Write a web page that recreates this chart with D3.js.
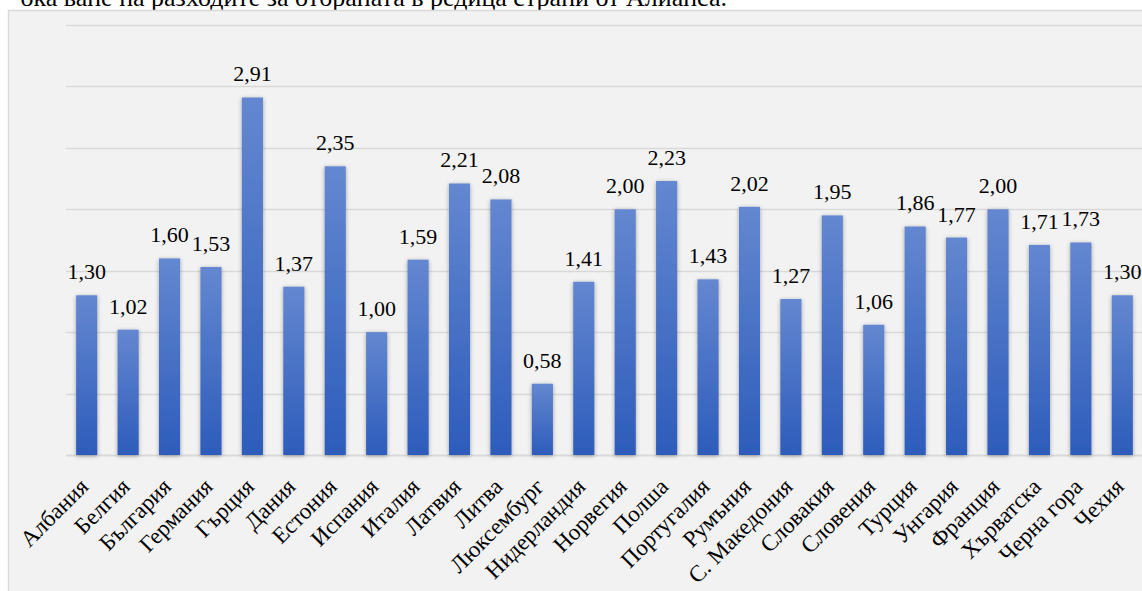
<!DOCTYPE html>
<html><head><meta charset="utf-8">
<script src="https://cdn.jsdelivr.net/npm/d3@7"></script>
<style>body{margin:0;background:#fff;overflow:hidden}svg{display:block}</style>
</head><body>
<svg id="c" width="1142" height="591"></svg>
<script>
const categories = ["Албания","Белгия","България","Германия","Гърция","Дания","Естония","Испания","Италия","Латвия","Литва","Люксембург","Нидерландия","Норвегия","Полша","Португалия","Румъния","С. Македония","Словакия","Словения","Турция","Унгария","Франция","Хърватска","Черна гора","Чехия"];
const values = [1.30,1.02,1.60,1.53,2.91,1.37,2.35,1.00,1.59,2.21,2.08,0.58,1.41,2.00,2.23,1.43,2.02,1.27,1.95,1.06,1.86,1.77,2.00,1.71,1.73,1.30];
const gridTicks = [0,0.5,1,1.5,2,2.5,3,3.5];
const caption = "ока ване на разходите за отбраната в редица страни от Алианса.";

const svg = d3.select("#c");
const font = "'Liberation Serif','Times New Roman',serif";
const defs = svg.append("defs");
const g = defs.append("linearGradient").attr("id","bg").attr("x1",0).attr("y1",0).attr("x2",0).attr("y2",1);
g.append("stop").attr("offset","0%").attr("stop-color","#6487d0");
g.append("stop").attr("offset","100%").attr("stop-color","#2d5cbb");
const f = defs.append("filter").attr("id","sh").attr("x","-50%").attr("y","-10%").attr("width","200%").attr("height","120%");
f.append("feDropShadow").attr("dx",0).attr("dy",1).attr("stdDeviation",2).attr("flood-color","#000").attr("flood-opacity",0.35);

svg.append("text").attr("x",727).attr("y",6).attr("text-anchor","end")
  .attr("font-family",font).attr("font-size",26).attr("fill","#000").text(caption);

svg.append("rect").attr("x",8.5).attr("y",10.5).attr("width",1300).attr("height",700)
  .attr("fill","#f2f2f2").attr("stroke","#d9d9d9").attr("stroke-width",1.5);

const x = d3.scaleBand().domain(categories).range([66,1143]).padding(0);
const y = d3.scaleLinear().domain([0,3.5]).range([455,25]);

svg.append("g").selectAll("line").data(gridTicks).join("line")
  .attr("x1",66).attr("x2",1142).attr("y1",d=>Math.round(y(d))+0.5).attr("y2",d=>Math.round(y(d))+0.5)
  .attr("stroke","#d9d9d9").attr("stroke-width",d=>d===0?2:1.3);

const bw = x.bandwidth()*0.51;
svg.append("g").selectAll("rect").data(values).join("rect")
  .attr("x",(d,i)=>x(categories[i])+(x.bandwidth()-bw)/2)
  .attr("y",d=>y(d)).attr("width",bw).attr("height",d=>y(0)-y(d))
  .attr("fill","url(#bg)").attr("filter","url(#sh)");

svg.append("g").selectAll("text").data(values).join("text")
  .attr("x",(d,i)=>x(categories[i])+x.bandwidth()/2)
  .attr("y",d=>y(d)-16).attr("text-anchor","middle")
  .attr("font-family",font).attr("font-size",22).attr("fill","#000")
  .text(d=>d3.format(".2f")(d).replace(".",","));

svg.append("g").selectAll("text").data(categories).join("text")
  .attr("transform",(d)=>`translate(${x(d)+x.bandwidth()/2+3},488) rotate(-45)`)
  .attr("text-anchor","end")
  .attr("font-family",font).attr("font-size",23).attr("fill","#000")
  .text(d=>d);
</script>
</body></html>
